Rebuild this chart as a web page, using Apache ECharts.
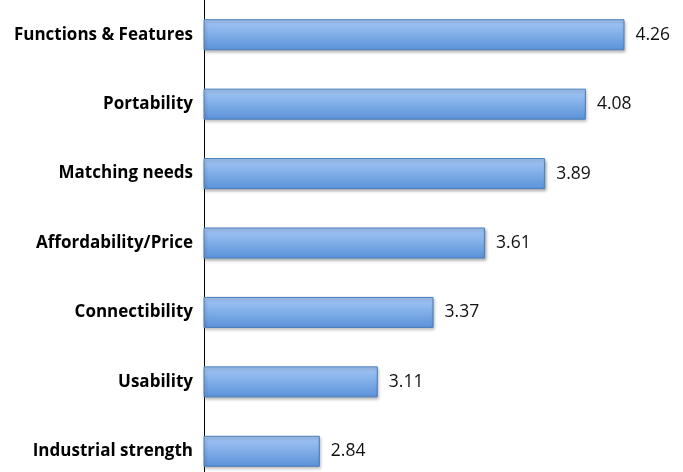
<!DOCTYPE html>
<html>
<head>
<meta charset="utf-8">
<script src="https://cdn.jsdelivr.net/npm/echarts@6/dist/echarts.min.js"></script>
<style>
html,body{margin:0;padding:0;background:#fff;}
#chart{width:683px;height:472px;}
</style>
</head>
<body>
<div id="chart"></div>
<script>
const categories = ["Functions & Features","Portability","Matching needs","Affordability/Price","Connectibility","Usability","Industrial strength"];
const values = [4.26, 4.08, 3.89, 3.61, 3.37, 3.11, 2.84];

const chart = echarts.init(document.getElementById('chart'));
chart.setOption({
  animation: false,
  backgroundColor: '#ffffff',
  grid: { left: 204, right: 7, top: 0, height: 486, containLabel: false, outerBoundsMode: 'none' },
  xAxis: {
    type: 'value', min: 2.3, max: 4.5, show: false
  },
  yAxis: {
    type: 'category', data: categories, inverse: true,
    axisLine: { show: true, lineStyle: { color: '#000', width: 1 } },
    axisTick: { show: false },
    axisLabel: { color: '#000', fontFamily: 'Open Sans', fontWeight: 'bold', fontSize: 17, margin: 11 }
  },
  series: [{
    type: 'bar', data: values, barWidth: 31,
    itemStyle: {
      color: new echarts.graphic.LinearGradient(0, 0, 0, 1, [
        { offset: 0, color: '#a6c8f7' },
        { offset: 1, color: '#5a92d8' }
      ]),
      borderColor: '#4a7ebb', borderWidth: 1,
      shadowColor: 'rgba(0,0,0,0.3)', shadowBlur: 3, shadowOffsetX: 1, shadowOffsetY: 2
    },
    label: {
      show: true, position: 'right', distance: 11,
      color: '#111', fontFamily: 'Open Sans', fontSize: 17.5,
      formatter: p => p.value.toFixed(2)
    }
  }]
});
</script>
</body>
</html>
